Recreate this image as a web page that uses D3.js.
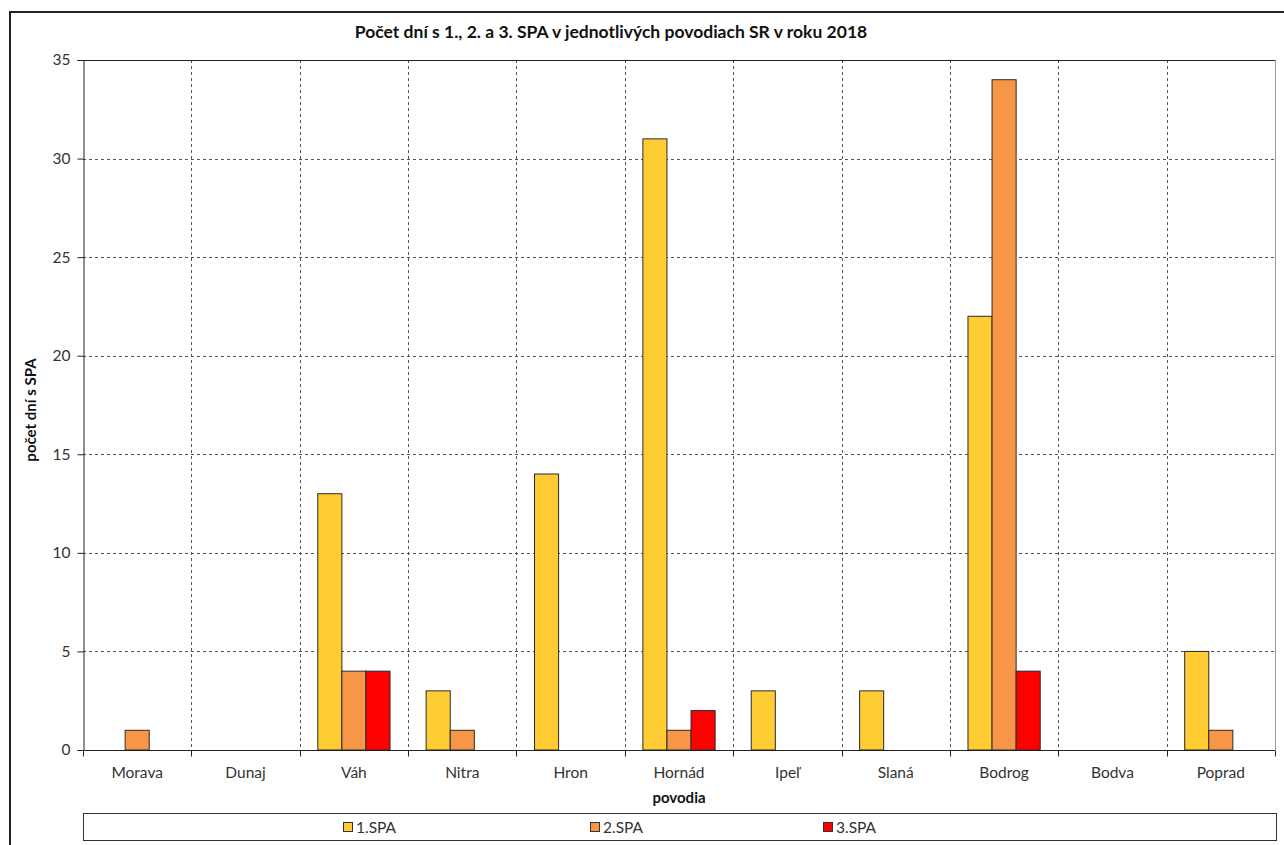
<!DOCTYPE html>
<html>
<head>
<meta charset="utf-8">
<script src="https://cdn.jsdelivr.net/npm/d3@7"></script>
<style>
  html, body { margin: 0; padding: 0; background: #fff; }
  svg { display: block; }
  text { font-family: Lato, "Open Sans", sans-serif; }
</style>
</head>
<body>
<svg id="chart" width="1284" height="845"></svg>
<script>
// River basins and the number of days with each flood alert level (SPA)
const basins = ["Morava", "Dunaj", "Váh", "Nitra", "Hron", "Hornád", "Ipeľ", "Slaná", "Bodrog", "Bodva", "Poprad"];
const spa1 = [0, 0, 13, 3, 14, 31, 3, 3, 22, 0, 5];
const spa2 = [1, 0, 4, 1, 0, 1, 0, 0, 34, 0, 1];
const spa3 = [0, 0, 4, 0, 0, 2, 0, 0, 4, 0, 0];
const seriesNames = ["1.SPA", "2.SPA", "3.SPA"];
const yTicks = [0, 5, 10, 15, 20, 25, 30, 35];

const colors = ["#FFCC33", "#F79646", "#FF0000"];
const seriesValues = [spa1, spa2, spa3];

const svg = d3.select("#chart");
const plot = { left: 83, right: 1275, top: 60, bottom: 750 };

// outer frame of the chart
svg.append("path")
  .attr("d", `M10,845 V12 H1284`)
  .attr("fill", "none").attr("stroke", "#222").attr("stroke-width", 2);

const x = d3.scaleBand().domain(basins).range([plot.left, plot.right]).paddingInner(0).paddingOuter(0);
const y = d3.scaleLinear().domain([0, 35]).range([plot.bottom, plot.top]);
// three bars per group with a 150% gap -> 4.5 bar widths per category
const bw = x.bandwidth() / 4.5;
const xs = d3.scaleBand().domain(seriesNames).range([0.75 * bw, 3.75 * bw]).padding(0);

// horizontal gridlines
svg.append("g").selectAll("line")
  .data(yTicks.filter(t => t > 0 && t < 35))
  .join("line")
  .attr("x1", plot.left).attr("x2", plot.right)
  .attr("y1", d => Math.round(y(d)) + 0.5).attr("y2", d => Math.round(y(d)) + 0.5)
  .attr("stroke", "#555").attr("stroke-width", 1).attr("stroke-dasharray", "3,3");

// vertical gridlines between basins
svg.append("g").selectAll("line")
  .data(basins.slice(1))
  .join("line")
  .attr("x1", d => Math.round(x(d)) + 0.5).attr("x2", d => Math.round(x(d)) + 0.5)
  .attr("y1", plot.top).attr("y2", plot.bottom)
  .attr("stroke", "#555").attr("stroke-width", 1).attr("stroke-dasharray", "3,3");

// plot area top and right border
svg.append("line").attr("x1", plot.left).attr("x2", plot.right)
  .attr("y1", plot.top + 0.5).attr("y2", plot.top + 0.5).attr("stroke", "#222");
svg.append("line").attr("x1", plot.right + 0.5).attr("x2", plot.right + 0.5)
  .attr("y1", plot.top).attr("y2", plot.bottom).attr("stroke", "#999");

// bars
const barData = [];
basins.forEach((b, i) => {
  seriesValues.forEach((vals, s) => {
    if (vals[i] > 0) barData.push({ basin: b, series: seriesNames[s], value: vals[i], color: colors[s] });
  });
});
svg.append("g").selectAll("rect")
  .data(barData)
  .join("rect")
  .attr("x", d => x(d.basin) + xs(d.series))
  .attr("y", d => y(d.value))
  .attr("width", xs.bandwidth())
  .attr("height", d => y(0) - y(d.value))
  .attr("fill", d => d.color)
  .attr("stroke", "#2a2a2a").attr("stroke-width", 1);

// y axis
const yAxis = d3.axisLeft(y).tickValues(yTicks).tickSize(6).tickPadding(7);
const gy = svg.append("g").attr("transform", `translate(${plot.left + 0.5},0)`).call(yAxis);
gy.select(".domain").attr("stroke", "#222");
gy.selectAll(".tick line").attr("stroke", "#222");
gy.selectAll(".tick text").attr("font-size", 15.5).attr("fill", "#333")
  .style("font-family", "Lato, sans-serif");

// x axis with ticks at category boundaries
const gx = svg.append("g").attr("transform", `translate(0,${plot.bottom + 0.5})`);
gx.append("line").attr("x1", plot.left).attr("x2", plot.right).attr("stroke", "#222");
gx.selectAll("line.tk")
  .data(basins.map(b => x(b)).concat([plot.right]))
  .join("line").attr("class", "tk")
  .attr("x1", d => Math.round(d) + 0.5).attr("x2", d => Math.round(d) + 0.5)
  .attr("y1", 0).attr("y2", 6).attr("stroke", "#222");
gx.selectAll("text")
  .data(basins)
  .join("text")
  .attr("x", d => x(d) + x.bandwidth() / 2)
  .attr("y", 27)
  .attr("text-anchor", "middle")
  .attr("font-size", 15.5).attr("fill", "#333")
  .text(d => d);

// titles
svg.append("text")
  .attr("x", 611).attr("y", 38)
  .attr("text-anchor", "middle")
  .attr("font-size", 17.5).attr("font-weight", "bold").attr("fill", "#111")
  .text("Počet dní s 1., 2. a 3. SPA v jednotlivých povodiach SR v roku 2018");

svg.append("text")
  .attr("transform", "translate(36,410) rotate(-90)")
  .attr("text-anchor", "middle")
  .attr("font-size", 15).attr("font-weight", "bold").attr("fill", "#111")
  .text("počet dní s SPA");

svg.append("text")
  .attr("x", 679).attr("y", 803)
  .attr("text-anchor", "middle")
  .attr("font-size", 15).attr("font-weight", "bold").attr("fill", "#111")
  .text("povodia");

// legend
const legend = svg.append("g");
legend.append("rect")
  .attr("x", 83.5).attr("y", 813.5).attr("width", 1193).attr("height", 27)
  .attr("fill", "#fff").attr("stroke", "#333");
const legendX = [343, 590, 823];
const items = legend.selectAll("g.item")
  .data(seriesNames)
  .join("g").attr("class", "item")
  .attr("transform", (d, i) => `translate(${legendX[i]},822)`);
items.append("rect")
  .attr("x", 0.5).attr("y", 0.5).attr("width", 9).attr("height", 9)
  .attr("fill", (d, i) => colors[i]).attr("stroke", "#333");
items.append("text")
  .attr("x", 13).attr("y", 11)
  .attr("font-size", 15.5).attr("fill", "#333")
  .text(d => d);
</script>
</body>
</html>
